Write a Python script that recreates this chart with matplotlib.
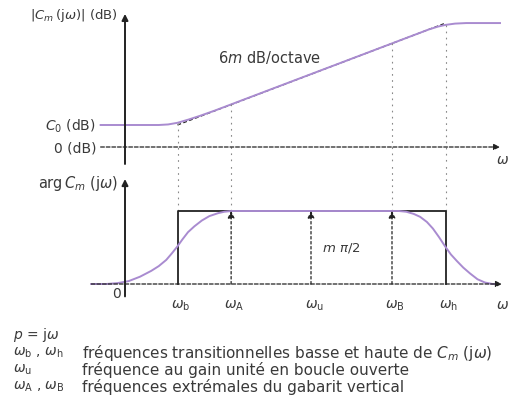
import numpy as np
import matplotlib
matplotlib.use("Agg")
import matplotlib.pyplot as plt

plt.rcParams['font.family'] = ['DejaVu Sans']
plt.rcParams['mathtext.fontset'] = 'dejavusans'

# frequency marks, position on the log(omega) axis (arbitrary units)
omega_names = [r'$\omega_\mathrm{b}$', r'$\omega_\mathrm{A}$', r'$\omega_\mathrm{u}$',
               r'$\omega_\mathrm{B}$', r'$\omega_\mathrm{h}$']
omega_pos = [1.4, 2.83, 4.96, 7.12, 8.55]

# gain: asymptotes and real curve (dB)
C0_dB = 6.0
Cmax_dB = 33.8
gain_u = [-0.65, 0.9, 1.15, 1.4, 1.7, 2.0, 2.4, 8.1, 8.35, 8.55, 8.8, 9.1, 10.0]
gain_dB = [6.0, 6.0, 6.15, 6.6, 7.5, 8.5, 9.95, 32.05, 32.85, 33.3, 33.65, 33.8, 33.8]

# phase in units of m*pi/2
phase_u = [-0.9, -0.5, -0.2, 0.1, 0.4, 0.7, 0.9, 1.1, 1.25, 1.39, 1.53, 1.68, 1.85,
           2.05, 2.25, 2.48, 2.65, 2.85,
           7.3, 7.5, 7.7, 7.87, 8.05, 8.21, 8.37, 8.53, 8.69, 8.85, 9.02, 9.2, 9.4,
           9.6, 9.8, 9.9]
phase_val = [0.0, 0.0, 0.012, 0.04, 0.1, 0.18, 0.245, 0.33, 0.42, 0.51, 0.61, 0.71, 0.79,
             0.87, 0.93, 0.97, 0.99, 1.0,
             1.0, 0.99, 0.96, 0.92, 0.85, 0.76, 0.645, 0.52, 0.405, 0.315, 0.225, 0.145,
             0.065, 0.02, 0.0, 0.0]

W, H = 508, 414
PX = 37.5          # pixels per unit of log(omega)
X0 = 125           # pixel of the vertical axes
purple = '#a98bd0'
ink = '#222222'
txt = '#3a3a3a'

fig = plt.figure(figsize=(W / 100, H / 100), dpi=100)
xl = (-X0 / PX, (W - X0) / PX)

# top axes : pixel rows 0..165, 0 dB at row 148, 3.667 px per dB
kdb = 3.667
ax1 = fig.add_axes([0, 1 - 165 / H, 1, 165 / H])
ax1.set_xlim(*xl)
ax1.set_ylim((148 - 165) / kdb, 148 / kdb)
# bottom axes : pixel rows 165..305, baseline at row 285, 73 px per unit
kph = 73.0
ax2 = fig.add_axes([0, 1 - 305 / H, 1, 140 / H])
ax2.set_xlim(*xl)
ax2.set_ylim((285 - 305) / kph, (285 - 165) / kph)
for a in (ax1, ax2):
    a.axis('off')

arr = dict(arrowstyle='-|>', color=ink, lw=1.4, mutation_scale=9, shrinkA=0, shrinkB=0)

# ---- gain plot
ax1.annotate('', xy=(0, 36.3), xytext=(0, (148 - 165) / kdb), arrowprops=arr)
ax1.annotate('', xy=(10.0, 0), xytext=(-0.65, 0),
             arrowprops=dict(arr, lw=0.9, linestyle=(0, (3, 1.5))))
ax1.plot([omega_pos[0], omega_pos[4]], [C0_dB, Cmax_dB], color=ink, lw=0.9, ls=(0, (3, 2)))
ax1.plot(gain_u, gain_dB, color=purple, lw=1.4)
for i in (0, 1, 3, 4):
    g = np.interp(omega_pos[i], gain_u, gain_dB)
    ax1.plot([omega_pos[i]] * 2, [g, (148 - 165) / kdb], color='#888888', lw=0.8,
             ls=(0, (1.5, 4)))

# ---- phase plot
ax2.annotate('', xy=(0, (285 - 180) / kph), xytext=(0, -0.17), arrowprops=arr)
ax2.annotate('', xy=(10.05, 0), xytext=(-0.9, 0),
             arrowprops=dict(arr, lw=0.9, linestyle=(0, (3, 1.5))))
for i in (0, 1, 3, 4):
    ax2.plot([omega_pos[i]] * 2, [1.0, (285 - 165) / kph], color='#888888', lw=0.8,
             ls=(0, (1.5, 4)))
ax2.plot([omega_pos[0], omega_pos[0], omega_pos[4], omega_pos[4]], [0, 1, 1, 0],
         color=ink, lw=1.3)
for i in (1, 2, 3):
    ax2.annotate('', xy=(omega_pos[i], 1.0), xytext=(omega_pos[i], 0),
                 arrowprops=dict(arr, lw=0.9, linestyle=(0, (2, 2)), mutation_scale=10))
ax2.plot(phase_u, phase_val, color=purple, lw=1.4)


def ptext(x, y, s, size=10, ha='left', va='center'):
    fig.text(x / W, 1 - y / H, s, fontsize=size, ha=ha, va=va, color=txt)


ptext(30, 16, r'$|C_m\,(\mathrm{j}\omega)|$ (dB)', size=9.5)
ptext(218, 58, r'6$m$ dB/octave', size=10.5)
ptext(96, 126, r'$C_0$ (dB)', ha='right')
ptext(96, 148, r'0 (dB)', ha='right')
ptext(118, 184, r'arg$\,C_m$ (j$\omega$)', ha='right', size=10.5)
ptext(322, 248, r'$m\ \pi/2$', size=9.5)
ptext(121, 294, '0', ha='right')
ptext(496, 160, r'$\omega$')
ptext(496, 305, r'$\omega$')
for name, u in zip(omega_names, omega_pos):
    ptext(X0 + u * PX + 3, 306, name, size=10, ha='center')

rows = [(335, r'$p$ = j$\omega$', ''),
        (353, r'$\omega_\mathrm{b}$ , $\omega_\mathrm{h}$',
         r'fréquences transitionnelles basse et haute de $C_m$ (j$\omega$)'),
        (370, r'$\omega_\mathrm{u}$', 'fréquence au gain unité en boucle ouverte'),
        (387, r'$\omega_\mathrm{A}$ , $\omega_\mathrm{B}$',
         'fréquences extrémales du gabarit vertical')]
for y, sym, desc in rows:
    ptext(13, y, sym, size=10)
    if desc:
        ptext(82, y, desc, size=11)

fig.savefig('out.png', dpi=100)
